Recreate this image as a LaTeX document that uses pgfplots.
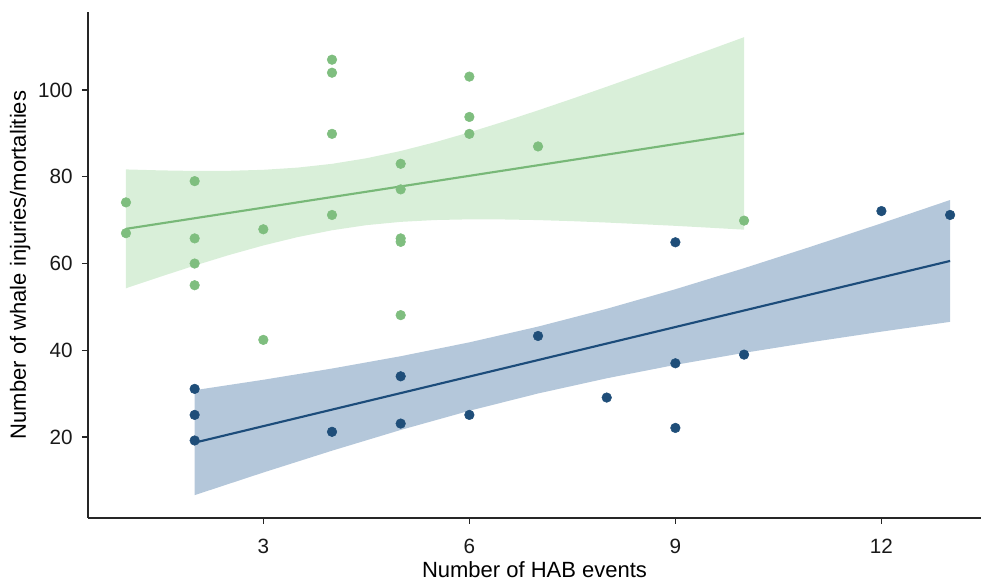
\documentclass[border=0pt]{standalone}
\usepackage{pgfplots}
\pgfplotsset{compat=1.18}
\usepgfplotslibrary{fillbetween}
\usetikzlibrary{calc}
\usepackage{fontspec}
\setmainfont{Liberation Sans}
\definecolor{gpt}{RGB}{127,190,127}
\definecolor{gline}{RGB}{120,184,120}
\definecolor{gfill}{RGB}{217,239,217}
\definecolor{bpt}{RGB}{31,78,121}
\definecolor{bline}{RGB}{28,76,122}
\definecolor{bfill}{RGB}{180,199,218}
\begin{document}
\begin{tikzpicture}
\begin{axis}[
  scale only axis,
  width=669.75pt, height=379.5pt,
  xmin=0.447, xmax=13.45,
  ymin=1.33, ymax=118,
  axis lines*=left,
  axis line style={line width=1.1pt, color=black!85},
  xtick={3,6,9,12},
  ytick={20,40,60,80,100},
  tick align=outside,
  major tick length=4.5pt,
  tick style={line width=1pt, color=black!85},
  /pgf/number format/assume math mode=true,
  every tick label/.append style={font=\fontsize{15.5}{18}\selectfont, color=black!90},
  xticklabel style={yshift=-8pt},
  yticklabel style={xshift=-3.5pt},
  label style={font=\fontsize{16.5}{19}\selectfont, color=black},
  xlabel={Number of HAB events},
  ylabel={Number of whale injuries/mortalities},
  xlabel style={yshift=1pt},
  ylabel style={yshift=-1pt},
  clip=false,
]
% green ribbon
\addplot[name path=gu, draw=none, forget plot] coordinates {
(1,81.70) (1.5,81.48) (2,81.35) (2.5,81.38) (3,81.61) (3.5,82.12) (4,82.99) (4.5,84.27) (5,85.95) (5.5,87.97) (6,90.25) (6.5,92.72) (7,95.32) (7.5,98.01) (8,100.77) (8.5,103.58) (9,106.43) (9.5,109.30) (10,112.19)};
\addplot[name path=gl, draw=none, forget plot] coordinates {
(1,54.30) (1.5,56.96) (2,59.53) (2.5,61.96) (3,64.17) (3.5,66.10) (4,67.67) (4.5,68.85) (5,69.61) (5.5,70.03) (6,70.19) (6.5,70.16) (7,70.02) (7.5,69.77) (8,69.45) (8.5,69.08) (9,68.69) (9.5,68.26) (10,67.81)};
\addplot[fill=gfill, draw=none, forget plot] fill between[of=gu and gl];
% blue ribbon
\addplot[name path=bu, draw=none, forget plot] coordinates {
(2,30.80) (3,33.20) (4,35.79) (5,38.63) (6,41.83) (7,45.46) (8,49.56) (9,54.08) (10,58.93) (11,64.03) (12,69.28) (13,74.65)};
\addplot[name path=bl, draw=none, forget plot] coordinates {
(2,6.60) (3,11.82) (4,16.85) (5,21.63) (6,26.05) (7,30.04) (8,33.54) (9,36.64) (10,39.41) (11,41.93) (12,44.30) (13,46.55)};
\addplot[fill=bfill, draw=none, forget plot] fill between[of=bu and bl];
% fit lines
\addplot[gline, line width=1.6pt, no marks] coordinates {(1,68.0) (10,90.0)};
\addplot[bline, line width=1.6pt, no marks] coordinates {(2,18.7) (13,60.6)};
% green points
\addplot[only marks, mark=*, mark size=3.6pt, color=gpt, mark options={draw=gpt, fill=gpt}] coordinates {
(1,74.1) (1,67.0) (2,79.0) (2,65.8) (2,60.0) (2,55.0) (3,67.9) (3,42.4)
(4,107.0) (4,104.0) (4,89.9) (4,71.2)
(5,83.0) (5,77.1) (5,65.8) (5,65.0) (5,48.1)
(6,103.1) (6,93.8) (6,89.9) (7,87.0) (10,69.9)};
% blue points
\addplot[only marks, mark=*, mark size=3.6pt, color=bpt, mark options={draw=bpt, fill=bpt}] coordinates {
(2,31.1) (2,25.1) (2,19.2) (4,21.2) (5,34.0) (5,23.1) (6,25.1) (7,43.3)
(8,29.1) (9,64.9) (9,37.0) (9,22.1) (10,39.0) (12,72.1) (13,71.2)};
\end{axis}
\pgfresetboundingbox
\path ($(current axis.south west)+(-66pt,-47.25pt)$) rectangle ($(current axis.north east)+(0pt,9pt)$);
\end{tikzpicture}
\end{document}
